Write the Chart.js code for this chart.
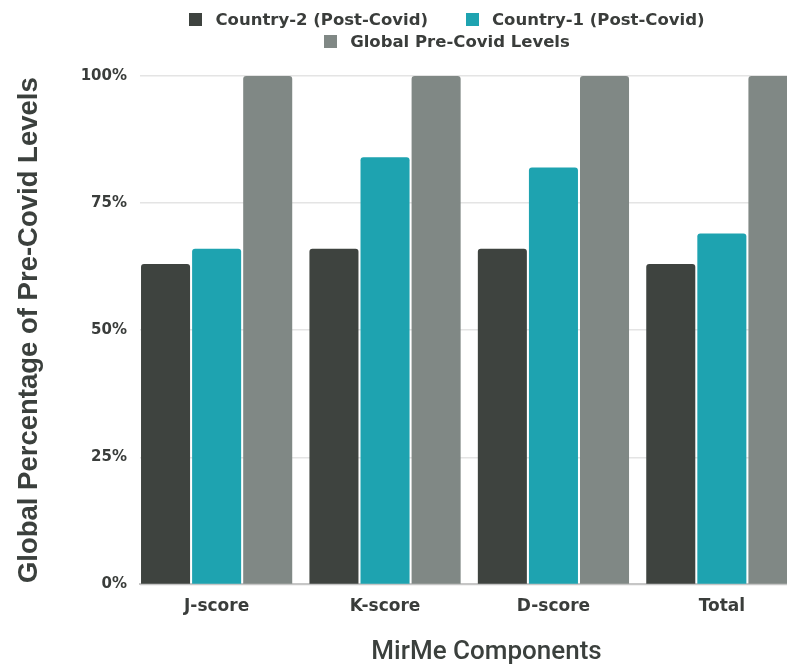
<!DOCTYPE html>
<html>
<head>
<meta charset="utf-8">
<script src="https://cdn.jsdelivr.net/npm/chart.js@4.4.1/dist/chart.umd.min.js"></script>
<style>
  html, body { margin: 0; padding: 0; background: #ffffff; overflow: hidden; }
  #wrap { position: relative; width: 787px; height: 668px; overflow: hidden; }
  #c { position: absolute; left: 0; top: 0; }
  #legend { position: absolute; left: 0; top: 8px; width: 894px; font-family: "DejaVu Sans", sans-serif; font-weight: 700; font-size: 16.5px; color: #3a3d3b; }
  .row { display: flex; justify-content: center; height: 22px; align-items: center; }
  .item { display: flex; align-items: center; margin: 0 19px; white-space: nowrap; }
  .box { width: 13px; height: 13px; margin-right: 13px; display: inline-block; }
</style>
</head>
<body>
<div id="wrap">
  <canvas id="c" width="833" height="668"></canvas>
  <div id="legend"></div>
</div>
<script>
const categories = ["J-score", "K-score", "D-score", "Total"];
const seriesNames = ["Country-2 (Post-Covid)", "Country-1 (Post-Covid)", "Global Pre-Covid Levels"];
const country2 = [63, 66, 66, 63];
const country1 = [66, 84, 82, 69];
const globalPre = [100, 100, 100, 100];
const yTicks = [0, 25, 50, 75, 100];
const colors = ["#3e433f", "#1ea3b0", "#808885"];

const seriesValues = [country2, country1, globalPre];

// HTML legend (two rows like the reference)
const legendRows = [[0, 1], [2]];
const legendEl = document.getElementById('legend');
legendRows.forEach(r => {
  const row = document.createElement('div');
  row.className = 'row';
  r.forEach(i => {
    const it = document.createElement('span');
    it.className = 'item';
    const b = document.createElement('span');
    b.className = 'box';
    b.style.background = colors[i];
    it.appendChild(b);
    it.appendChild(document.createTextNode(seriesNames[i]));
    row.appendChild(it);
  });
  legendEl.appendChild(row);
});

const datasets = seriesValues.map((vals, i) => ({
  label: seriesNames[i],
  data: vals.map((v, j) => ({ x: j, y: v })),
  backgroundColor: colors[i],
  borderRadius: { topLeft: 3, topRight: 3, bottomLeft: 0, bottomRight: 0 },
  borderSkipped: false,
  categoryPercentage: 0.91,
  barPercentage: 0.96
}));

new Chart(document.getElementById('c'), {
  type: 'bar',
  data: { datasets },
  options: {
    responsive: false,
    animation: false,
    layout: { padding: { top: 76, left: 0, right: 0, bottom: 0 } },
    plugins: { legend: { display: false }, tooltip: { enabled: false } },
    scales: {
      x: {
        type: 'linear',
        offset: false,
        min: -0.455,
        max: 3.66,
        afterBuildTicks: s => { s.ticks = categories.map((_, i) => ({ value: i })); },
        grid: { display: false, drawTicks: false },
        border: { display: true, color: '#c6c6c6', width: 2 },
        ticks: {
          padding: 12,
          autoSkip: false,
          maxRotation: 0,
          color: '#3a3d3b',
          font: { family: 'DejaVu Sans', size: 17, weight: 'bold' },
          callback: v => categories[v]
        },
        title: {
          display: true,
          text: 'MirMe Components',
          color: '#3b403d',
          font: { family: 'Roboto', size: 26, weight: '500' },
          padding: { top: 8, bottom: 0 }
        }
      },
      y: {
        min: 0,
        max: 100,
        afterBuildTicks: s => { s.ticks = yTicks.map(v => ({ value: v })); },
        afterFit: s => { s.width = 140; },
        grid: { color: '#e4e4e4', lineWidth: 1.5, drawTicks: false },
        border: { display: false },
        ticks: {
          padding: 13,
          color: '#3a3d3b',
          font: { family: 'DejaVu Sans', size: 15, weight: 'bold' },
          callback: v => v + '%'
        },
        title: {
          display: true,
          text: 'Global Percentage of Pre-Covid Levels',
          color: '#3b403d',
          font: { family: 'Liberation Sans', size: 27.5, weight: 'bold' },
          padding: { top: 13, bottom: 0 }
        }
      }
    }
  }
});
</script>
</body>
</html>
